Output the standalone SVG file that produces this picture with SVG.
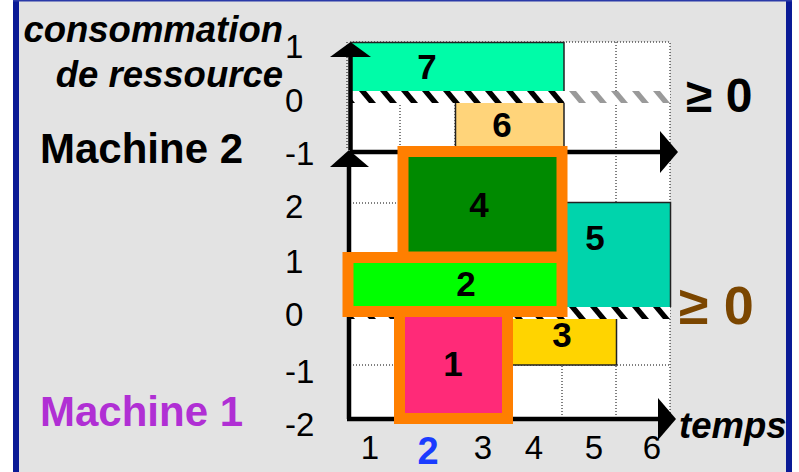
<svg xmlns="http://www.w3.org/2000/svg" width="799" height="472" viewBox="0 0 799 472">
  <defs>
    <style>
      text { font-family: "Liberation Sans", Arial, sans-serif; fill: #000; }
      .title { font-size: 36.5px; font-weight: bold; font-style: italic; }
      .machine { font-size: 42px; font-weight: bold; }
      .tick { font-size: 33px; }
      .num { font-size: 35px; font-weight: bold; text-anchor: middle; }
      .geq { font-weight: bold; }
      .grid { fill: none; stroke: #000; stroke-width: 1; stroke-dasharray: 1 2; }
      .axis { fill: none; stroke: #000; stroke-width: 4.5; }
      .edge { fill: none; stroke: #222; stroke-width: 1.5; }
      .frame { stroke: #ff7f00; stroke-width: 11; }
    </style>
    <!-- diagonal hatching for the zero-consumption line -->
    <pattern id="hatch" patternUnits="userSpaceOnUse" x="0" y="91" width="21" height="12">
      <rect width="21" height="12" fill="#fff"/>
      <polygon points="2,0 9,0 19,12 12,12" fill="#000"/>
    </pattern>
    <pattern id="hatchGrey" patternUnits="userSpaceOnUse" x="0" y="91" width="21" height="12">
      <rect width="21" height="12" fill="#fff"/>
      <polygon points="2,0 9,0 19,12 12,12" fill="#9a9a9a"/>
    </pattern>
    <marker id="head" viewBox="0 0 18 42" refX="0" refY="21" markerWidth="18" markerHeight="42" markerUnits="userSpaceOnUse" orient="auto">
      <polygon points="0,0 18,21 0,42" fill="#000"/>
    </marker>
  </defs>

  <!-- panel -->
  <rect x="0" y="0" width="799" height="472" fill="#fff"/>
  <rect x="16" y="0" width="773" height="472" fill="#e3e3e3"/>
  <rect x="13" y="0" width="6" height="472" fill="#0a1a96"/>
  <rect x="786" y="0" width="6" height="472" fill="#0a1a96"/>
  <rect x="13" y="0" width="779" height="1.5" fill="#2a3aa8"/>

  <!-- plotting area and grid -->
  <rect x="350" y="42" width="320" height="377" fill="#fff"/>
  <path class="grid" d="M347,42 V150 M350,42 H670 V419 M400,42 V419 M455,42 V419 M509,42 V419 M562,42 V419 M616,42 V419 M350,203 H670 M350,255 H670 M350,365 H670"/>

  <!-- zero-consumption hatching -->
  <rect x="350" y="91" width="214" height="12" fill="url(#hatch)"/>
  <rect x="564" y="91" width="106" height="12" fill="url(#hatchGrey)"/>
  <rect x="350" y="307" width="320" height="12" fill="url(#hatch)"/>

  <!-- Machine 2 tasks -->
  <g id="task7">
    <rect x="351" y="42" width="213" height="49" fill="#00fca8"/>
    <path class="edge" d="M351,42.5 H564 V91"/>
    <text class="num" x="427" y="79">7</text>
  </g>
  <g id="task6">
    <rect x="455" y="103" width="109" height="47" fill="#ffd47a"/>
    <path class="edge" d="M455.5,103 V150 M564,103 V150"/>
    <text class="num" x="502" y="137">6</text>
  </g>

  <!-- axes -->
  <g id="axes">
    <path class="axis" d="M350.5,150 V56"/>
    <polygon points="350.5,42 330,57 371,57" fill="#000"/>
    <path class="axis" d="M350,152 H660" marker-end="url(#head)"/>
    <path class="axis" d="M349,419 V166"/>
    <polygon points="349,150 330,167 369,167" fill="#000"/>
    <path class="axis" d="M347,419 H658" marker-end="url(#head)"/>
  </g>

  <!-- Machine 1 tasks -->
  <g id="task5">
    <rect x="567" y="202" width="104" height="105" fill="#00d4ac"/>
    <path class="edge" d="M567,202.5 H670.5 V307"/>
    <text class="num" x="595" y="250">5</text>
  </g>
  <g id="task3">
    <rect x="505" y="319" width="112" height="46" fill="#ffd400"/>
    <path class="edge" d="M616.5,319 V365 H505"/>
    <text class="num" x="562" y="347">3</text>
  </g>
  <g id="task4">
    <rect class="frame" x="403" y="151.5" width="159" height="105.5" fill="#008a00"/>
    <text class="num" x="479" y="217">4</text>
  </g>
  <g id="task2">
    <rect class="frame" x="348" y="257.5" width="214" height="54" fill="#00ff00"/>
    <text class="num" x="466" y="296">2</text>
  </g>
  <g id="task1">
    <rect class="frame" x="399.5" y="311.5" width="108" height="107" fill="#ff2a78"/>
    <text class="num" x="453" y="376">1</text>
  </g>

  <!-- labels -->
  <text class="title" x="283" y="42" text-anchor="end">consommation</text>
  <text class="title" x="283" y="87" text-anchor="end">de ressource</text>
  <text class="machine" x="40" y="163">Machine 2</text>
  <text class="machine" x="40" y="426" style="fill:#b02fd4">Machine 1</text>

  <g id="yticks">
    <text class="tick" x="285" y="58">1</text>
    <text class="tick" x="285" y="112">0</text>
    <text class="tick" x="285" y="165">-1</text>
    <text class="tick" x="285" y="218">2</text>
    <text class="tick" x="285" y="273">1</text>
    <text class="tick" x="285" y="326">0</text>
    <text class="tick" x="285" y="383">-1</text>
    <text class="tick" x="285" y="436">-2</text>
  </g>
  <g id="xticks" text-anchor="middle">
    <text class="tick" x="370" y="459">1</text>
    <text x="428" y="464" style="font-size:38px;font-weight:bold;fill:#1a3cff">2</text>
    <text class="tick" x="483" y="459">3</text>
    <text class="tick" x="534" y="459">4</text>
    <text class="tick" x="594" y="459">5</text>
    <text class="tick" x="652" y="459">6</text>
  </g>
  <text class="title" x="679" y="438">temps</text>
  <text class="geq" x="686" y="112" style="font-size:48px">≥ 0</text>
  <text class="geq" x="679" y="324" style="font-size:54px;fill:#7b4600">≥ 0</text>
</svg>
